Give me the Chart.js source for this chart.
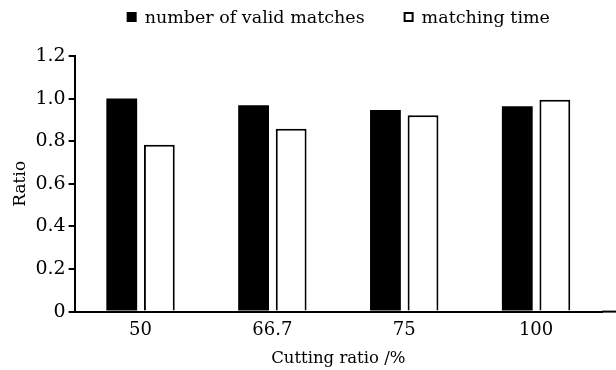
<!DOCTYPE html>
<html>
<head>
<meta charset="utf-8">
<script src="https://cdn.jsdelivr.net/npm/chart.js@4"></script>
<style>
  html, body { margin: 0; padding: 0; background: #fff; }
  #wrap { width: 616px; height: 370px; }
</style>
</head>
<body>
<div id="wrap"><canvas id="chart" width="616" height="370"></canvas></div>
<script>
// data
const categories = ['50', '66.7', '75', '100'];
const validMatches = [1.0, 0.969, 0.947, 0.964];
const matchingTime = [0.783, 0.859, 0.922, 0.995];
const yTicks = ['0', '0.2', '0.4', '0.6', '0.8', '1.0', '1.2'];

const FONT = 'DejaVu Serif';

// x axis line runs on to the right edge of the picture
const axisTail = {
  id: 'axisTail',
  afterDraw(chart) {
    const { ctx, chartArea, scales } = chart;
    const y = scales.y.getPixelForValue(0);
    ctx.save();
    ctx.strokeStyle = '#000';
    ctx.lineWidth = 2;
    ctx.beginPath();
    ctx.moveTo(chartArea.right, y);
    ctx.lineTo(chart.width, y);
    ctx.stroke();
    ctx.restore();
  }
};

// legend on one line above the plot, centred over the plot area
const topLegend = {
  id: 'topLegend',
  afterDraw(chart) {
    const { ctx, chartArea } = chart;
    const box = 10, gap = 8, spacing = 39, y = 17;
    ctx.save();
    ctx.font = '17.5px "' + FONT + '"';
    ctx.textBaseline = 'middle';
    const items = chart.data.datasets.map(ds => ({ ds, w: box + gap + ctx.measureText(ds.label).width }));
    const total = items.reduce((s, it) => s + it.w, 0) + spacing * (items.length - 1);
    let x = (chartArea.left + chartArea.right) / 2 - total / 2;
    items.forEach(({ ds, w }) => {
      ctx.fillStyle = ds.backgroundColor;
      ctx.fillRect(x, y - box / 2, box, box);
      if (ds.borderWidth) {
        ctx.strokeStyle = ds.borderColor;
        ctx.lineWidth = 2;
        ctx.strokeRect(x + 1, y - box / 2 + 1, box - 2, box - 2);
      }
      ctx.fillStyle = '#000';
      ctx.fillText(ds.label, x + box + gap, y + 1);
      x += w + spacing;
    });
    ctx.restore();
  }
};

new Chart(document.getElementById('chart'), {
  type: 'bar',
  data: {
    labels: categories,
    datasets: [
      { label: 'number of valid matches', data: validMatches, backgroundColor: '#000', borderColor: '#000', borderWidth: 0 },
      { label: 'matching time', data: matchingTime, backgroundColor: '#fff', borderColor: '#000', borderWidth: 2 }
    ]
  },
  options: {
    responsive: false,
    animation: false,
    barPercentage: 0.82,
    categoryPercentage: 0.57,
    layout: { padding: { left: 10, right: 14, top: 56, bottom: 1 } },
    plugins: {
      tooltip: { enabled: false },
      legend: { display: false }
    },
    scales: {
      x: {
        grid: { display: false, drawTicks: false },
        border: { color: '#000', width: 2 },
        ticks: { color: '#000', padding: 8, font: { family: FONT, size: 18 } },
        title: { display: true, text: 'Cutting ratio /%', color: '#000', padding: { top: 0, bottom: 0 }, font: { family: FONT, size: 16.5 } }
      },
      y: {
        min: 0,
        max: 1.2,
        grid: { drawOnChartArea: false, tickLength: 6, color: '#000', lineWidth: 2 },
        border: { color: '#000', width: 2 },
        ticks: {
          stepSize: 0.2,
          color: '#000',
          padding: 3,
          font: { family: FONT, size: 19 },
          callback: (v, i) => yTicks[i]
        },
        title: { display: true, text: 'Ratio', color: '#000', padding: { top: 0, bottom: 2 }, font: { family: FONT, size: 17 } }
      }
    }
  },
  plugins: [axisTail, topLegend]
});
</script>
</body>
</html>
